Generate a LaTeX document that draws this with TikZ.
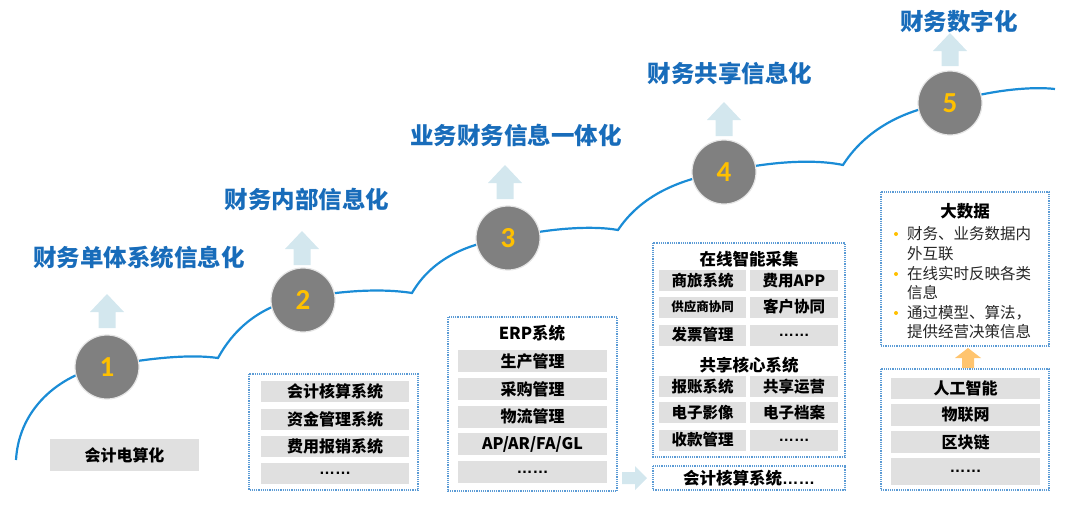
\documentclass[tikz,border=0pt]{standalone}
\usepackage{fontspec}
\setmainfont{Noto Sans CJK SC}
\newfontfamily\latinf{Liberation Sans}
\newfontfamily\numf{Carlito}
\usetikzlibrary{calc}
\definecolor{titleblue}{RGB}{24,108,186}
\definecolor{curveblue}{RGB}{26,140,214}
\definecolor{dotblue}{RGB}{91,155,213}
\definecolor{rowgray}{RGB}{224,224,224}
\definecolor{arrowblue}{RGB}{211,231,238}
\definecolor{numyellow}{RGB}{255,192,0}
\definecolor{circgray}{RGB}{128,128,128}
\definecolor{arroworange}{RGB}{255,196,110}
\newcommand\blkup[4]{% x, tip y, bottom y, color
  \fill[#4] (#1-8.5,#3) -- (#1-8.5,#2+18) -- (#1-17,#2+18) -- (#1,#2) -- (#1+17,#2+18) -- (#1+8.5,#2+18) -- (#1+8.5,#3) -- cycle;}
\tikzset{
  title/.style={text=titleblue,font=\fontsize{23.5}{26}\selectfont\bfseries,inner sep=0pt},
  stage/.style={circle,fill=circgray,draw=white!80!gray,line width=1.2pt,minimum size=64pt,inner sep=0pt,text=numyellow,font=\numf\fontsize{29}{30}\selectfont\bfseries},
  rowbox/.style={fill=rowgray,inner sep=0pt,text=black,font=\fontsize{16}{18}\selectfont\bfseries},
  smallrow/.style={rowbox,font=\fontsize{15.5}{17}\selectfont\bfseries},
  frame/.style={draw=dotblue,densely dotted,line width=1.2pt},
  hdr/.style={inner sep=0pt,text=black,font=\fontsize{16.5}{18}\selectfont\bfseries},
  listtext/.style={inner sep=0pt,anchor=west,text=black!85,font=\fontsize{15.5}{17}\selectfont},
  curve/.style={draw=curveblue,line width=2.2pt}
}
\begin{document}
\begin{tikzpicture}[x=1pt,y=-1pt]
\useasboundingbox (0,0) rectangle (1080,512);
% curve
\draw[curve] (16,460) .. controls (19,405) and (65,372) .. (107,366)
  .. controls (150,358) and (190,354) .. (218,358)
  .. controls (236,325) and (265,304) .. (303,298)
  .. controls (340,291) and (380,288) .. (412,293)
  .. controls (430,262) and (462,244) .. (508,238)
  .. controls (545,229) and (590,225) .. (618,230)
  .. controls (638,200) and (672,180) .. (724,172)
  .. controls (762,163) and (810,158) .. (843,165)
  .. controls (862,135) and (897,110) .. (950,103)
  .. controls (985,91) and (1030,86) .. (1055,89);
% stage circles
\node[stage] (s1) at (107,367) {1};
\node[stage] (s2) at (303,300) {2};
\node[stage] (s3) at (508,238) {3};
\node[stage] (s4) at (724,172) {4};
\node[stage] (s5) at (950,103) {5};
% up arrows
\blkup{107}{294}{328}{arrowblue}
\blkup{302}{231}{265}{arrowblue}
\blkup{505}{165}{199}{arrowblue}
\blkup{724}{102}{136}{arrowblue}
\blkup{950}{33}{66}{arrowblue}
% titles
\node[title] (t1) at (139,258) {财务单体系统信息化};
\node[title] (t2) at (307,199) {财务内部信息化};
\node[title] (t3) at (516,135) {业务财务信息一体化};
\node[title] (t4) at (730,73) {财务共享信息化};
\node[title] (t5) at (959,22) {财务数字化};
% box 1
\node[rowbox,minimum width=149pt,minimum height=32pt] (b1) at (124.5,455) {会计电算化};
% box 2
\draw[frame] (249,374) rectangle (418,490);
\node[rowbox,minimum width=148pt,minimum height=21pt] (b2a) at (335,391.5) {会计核算系统};
\node[rowbox,minimum width=148pt,minimum height=21pt] (b2b) at (335,419.5) {资金管理系统};
\node[rowbox,minimum width=148pt,minimum height=21pt] (b2c) at (335,446.5) {费用报销系统};
\node[rowbox,minimum width=148pt,minimum height=21pt] (b2d) at (335,473.5) {\latinf ……};
% box 3
\draw[frame] (448,317) rectangle (617,491);
\node[hdr] (b3h) at (532,333) {ERP系统};
\node[rowbox,minimum width=149pt,minimum height=22pt] (b3a) at (532.5,361) {生产管理};
\node[rowbox,minimum width=149pt,minimum height=22pt] (b3b) at (532.5,389) {采购管理};
\node[rowbox,minimum width=149pt,minimum height=22pt] (b3c) at (532.5,416.5) {物流管理};
\node[rowbox,minimum width=149pt,minimum height=22pt] (b3d) at (532.5,444) {AP/AR/FA/GL};
\node[rowbox,minimum width=149pt,minimum height=22pt] (b3e) at (532.5,472) {\latinf ……};
% small arrow
\fill[arrowblue] (622,472) -- (635,472) -- (635,466) -- (647,478) -- (635,490) -- (635,484) -- (622,484) -- cycle;
% box 4
\draw[frame] (653,243) rectangle (845,457);
\node[hdr] (b4h1) at (749,259) {在线智能采集};
\node[smallrow,minimum width=87pt,minimum height=21pt] (b4a) at (702.5,280.5) {商旅系统};
\node[smallrow,minimum width=88pt,minimum height=21pt] (b4b) at (794,280.5) {费用APP};
\node[smallrow,minimum width=87pt,minimum height=21pt,font=\fontsize{12.5}{14}\selectfont\bfseries] (b4c) at (702.5,307) {供应商协同};
\node[smallrow,minimum width=88pt,minimum height=21pt] (b4d) at (794,307) {客户协同};
\node[smallrow,minimum width=87pt,minimum height=21pt] (b4e) at (702.5,335) {发票管理};
\node[smallrow,minimum width=88pt,minimum height=21pt] (b4f) at (794,335) {\latinf ……};
\node[hdr] (b4h2) at (749,365) {共享核心系统};
\node[smallrow,minimum width=87pt,minimum height=21pt] (b4g) at (702.5,386.5) {报账系统};
\node[smallrow,minimum width=88pt,minimum height=21pt] (b4h) at (794,386.5) {共享运营};
\node[smallrow,minimum width=87pt,minimum height=21pt] (b4i) at (702.5,412.5) {电子影像};
\node[smallrow,minimum width=88pt,minimum height=21pt] (b4j) at (794,412.5) {电子档案};
\node[smallrow,minimum width=87pt,minimum height=21pt] (b4k) at (702.5,440) {收款管理};
\node[smallrow,minimum width=88pt,minimum height=21pt] (b4l) at (794,440) {\latinf ……};
\draw[frame] (653,466) rectangle (845,490);
\node[hdr] (b4m) at (749,478) {会计核算系统{\latinf ……}};
% box 5 upper
\draw[frame] (881,192) rectangle (1049,346);
\node[hdr] (b5h) at (965,211) {大数据};
\fill[numyellow] (896,234) circle (2pt);
\fill[numyellow] (896,274) circle (2pt);
\fill[numyellow] (896,313) circle (2pt);
\node[listtext] (l1) at (907,234) {财务、业务数据内};
\node[listtext] (l2) at (907,254) {外互联};
\node[listtext] (l3) at (907,274) {在线实时反映各类};
\node[listtext] (l4) at (907,293) {信息};
\node[listtext] (l5) at (907,313) {通过模型、算法，};
\node[listtext] (l6) at (907,332) {提供经营决策信息};
% orange arrow
\fill[arroworange] (962,368) -- (962,358) -- (955,358) -- (968,348) -- (981,358) -- (974,358) -- (974,368) -- cycle;
% box 5 lower
\draw[frame] (881,369) rectangle (1049,490);
\node[rowbox,minimum width=149pt,minimum height=21pt] (b5a) at (965.5,388.5) {人工智能};
\node[rowbox,minimum width=149pt,minimum height=22pt] (b5b) at (965.5,415) {物联网};
\node[rowbox,minimum width=149pt,minimum height=22pt] (b5c) at (965.5,442) {区块链};
\node[rowbox,minimum width=149pt,minimum height=27pt] (b5d) at (965.5,471.5) {\latinf ……};
\end{tikzpicture}
\end{document}
